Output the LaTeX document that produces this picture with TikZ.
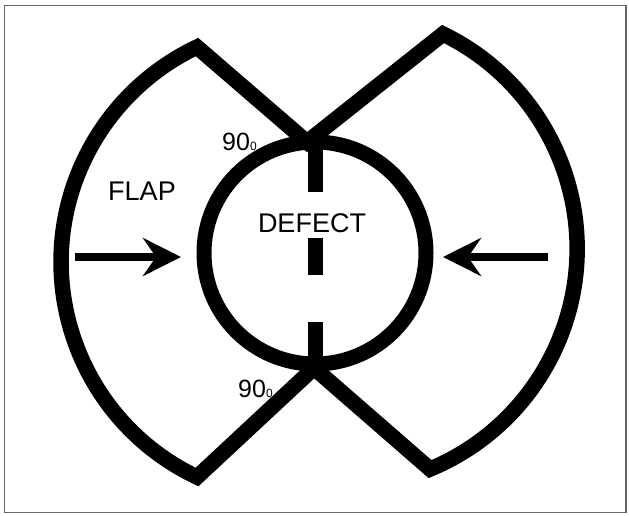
\documentclass[tikz,border=0pt]{standalone}
\usepackage{fontspec}
\setmainfont{Liberation Sans}
\usetikzlibrary{arrows.meta}
\begin{document}
\begin{tikzpicture}[x=1pt,y=-1pt,
  outline/.style={line width=15.5pt, line join=miter, miter limit=10},
  dashbar/.style={line width=15pt},
  push/.style={line width=8.5pt, -{Stealth[length=38pt,width=38pt,inset=13pt]}},
  lbl/.style={font=\fontsize{27}{30}\selectfont, inner sep=0pt},
  deg/.style={font=\fontsize{25}{28}\selectfont, inner sep=0pt, anchor=base west}]
\useasboundingbox (0,0) rectangle (629,515);
\draw[black!60, line width=1.6pt] (4.5,5.5) rectangle (626,512.5);
% key points
\coordinate (LT) at (197,49);
\coordinate (LB) at (197,477);
\coordinate (RT) at (443,34);
\coordinate (RB) at (430,469);
\coordinate (JT) at (307,142);
\coordinate (JB) at (314,368);
% flaps
\draw[outline] (JB) -- (LB) arc[start angle=115.4, end angle=244.6, radius=238] -- (JT)
  -- (RT) arc[start angle=-64, end angle=67.4, radius=238.8] -- cycle;
% defect circle
\draw[line width=15pt] (315,253) circle[radius=111];
% dashed midline
\draw[dashbar] (315,142) -- (315,192);
\draw[dashbar] (315,238) -- (315,275);
\draw[dashbar] (315,322) -- (315,364);
% arrows
\coordinate (la0) at (75,257);
\coordinate (la1) at (181,257);
\coordinate (ra0) at (548,257);
\coordinate (ra1) at (443,257);
\draw[push] (la0) -- (la1);
\draw[push] (ra0) -- (ra1);
% labels
\node[lbl] (flap) at (142,191) {FLAP};
\node[lbl] (defect) at (312,223) {DEFECT};
\node[deg] (ang1) at (222,150) {90{\fontsize{12}{12}\selectfont 0}};
\node[deg] (ang2) at (238,397) {90{\fontsize{12}{12}\selectfont 0}};
\end{tikzpicture}
\end{document}
